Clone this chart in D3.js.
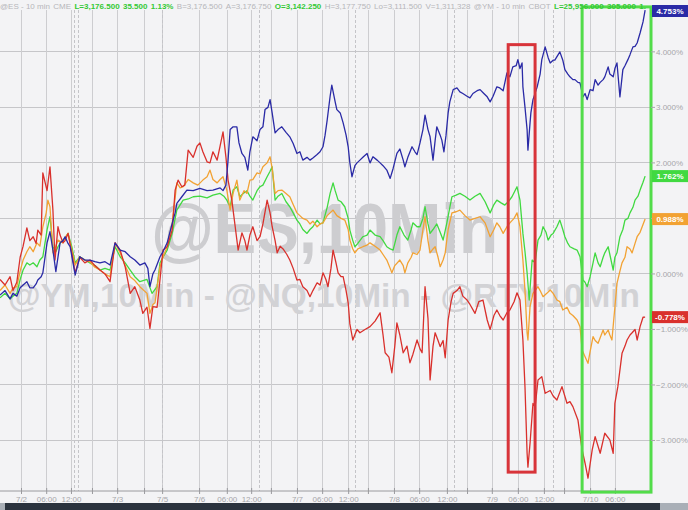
<!DOCTYPE html>
<html><head><meta charset="utf-8">
<script src="https://cdn.jsdelivr.net/npm/d3@7"></script>
<style>html,body{margin:0;padding:0;background:#f3f3f5;}svg{display:block;font-family:"Liberation Sans",Arial,sans-serif;}</style>
</head><body><svg id="c" width="688" height="510"></svg>
<script>
// time unit: trading hours from the first bar; value unit: % change
const nq = [[0,-0.38],[1.2,-0.3],[2.4,-0.45],[3.1,-0.35],[4.0,-0.4],[4.8,-0.25],[5.5,-0.2],[6.4,-0.14],[7.1,-0.25],[7.9,-0.25],[8.6,-0.18],[9.0,-0.11],[9.8,-0.05],[10.2,0.02],[11.2,0.56],[11.9,0.76],[12.6,0.43],[13.3,0.04],[14.3,0.56],[15.0,0.6],[15.5,0.67],[16.2,0.55],[16.7,0.49],[17.9,-0.02],[19.0,0.31],[20.2,0.25],[21.4,0.25],[22.6,0.22],[23.8,0.2],[25.0,0.22],[26.2,0.16],[27.4,0.56],[28.6,0.43],[29.8,0.4],[31.0,0.31],[32.1,0.25],[33.3,0.16],[34.5,0.2],[35.2,0.1],[35.7,-0.23],[36.4,0.0],[36.9,0.07],[38.1,0.31],[38.8,0.4],[39.8,0.56],[41.0,0.91],[41.7,1.1],[42.1,1.27],[43.3,1.39],[44.5,1.51],[46.0,1.5],[47.6,1.54],[49.3,1.5],[50.7,1.51],[52.4,1.55],[53.1,1.5],[53.8,1.6],[54.3,2.05],[54.8,2.6],[55.5,2.65],[56.4,2.65],[56.9,2.36],[57.6,2.17],[58.3,2.1],[59.0,1.87],[59.5,2.2],[60.2,2.47],[61.2,2.4],[61.9,2.6],[62.6,2.65],[63.1,2.96],[63.8,3.0],[64.3,3.14],[64.8,2.9],[65.5,2.54],[66.2,2.6],[67.1,2.65],[68.1,2.55],[69.0,2.47],[69.8,2.35],[70.7,2.17],[71.4,2.2],[72.1,2.05],[73.1,2.1],[73.8,2.05],[74.5,2.09],[75.5,2.15],[76.2,2.2],[76.9,2.29],[77.4,2.5],[77.9,2.77],[78.6,3.2],[79.0,3.4],[79.8,3.1],[80.2,2.96],[81.0,2.9],[81.7,2.72],[82.4,2.5],[82.9,2.29],[83.3,2.0],[83.8,1.75],[84.5,1.95],[85.0,2.0],[85.7,2.05],[86.4,2.1],[87.4,2.17],[88.1,2.0],[88.8,2.11],[89.8,2.05],[90.5,2.0],[91.2,1.95],[92.1,1.87],[92.9,1.72],[93.6,1.9],[94.5,2.17],[95.2,2.25],[96.0,2.05],[96.4,1.93],[97.1,2.1],[98.1,2.29],[98.8,2.2],[99.3,2.15],[100.0,2.36],[100.7,2.6],[101.2,2.86],[101.9,2.6],[102.4,2.47],[103.1,2.05],[103.6,2.4],[104.0,2.65],[104.8,2.5],[105.2,2.41],[105.7,2.2],[106.2,2.5],[106.7,2.9],[107.1,3.1],[107.9,3.32],[108.8,3.35],[109.5,3.28],[110.2,3.25],[111.2,3.2],[111.9,3.17],[112.6,3.25],[113.6,3.3],[114.3,3.32],[115.2,3.25],[116.0,3.19],[116.7,3.1],[117.4,3.2],[118.3,3.37],[119.0,3.35],[119.8,3.3],[120.7,3.62],[121.4,3.55],[122.1,3.73],[122.9,3.75],[123.3,3.86],[123.8,3.7],[124.3,3.8],[124.5,3.37],[125.0,3.0],[125.5,2.6],[125.7,2.23],[126.2,2.72],[126.4,2.9],[126.9,3.14],[127.9,3.37],[128.6,3.6],[129.0,3.86],[129.8,4.09],[130.5,3.9],[131.0,3.8],[131.7,3.85],[132.1,3.85],[132.9,3.95],[133.3,4.0],[134.0,3.85],[134.5,3.68],[135.2,3.6],[135.7,3.55],[136.4,3.5],[136.9,3.5],[137.6,3.45],[138.1,3.44],[138.8,3.19],[139.3,3.25],[139.8,3.14],[140.5,3.32],[141.2,3.3],[141.7,3.5],[142.4,3.4],[142.9,3.45],[143.6,3.5],[144.0,3.55],[144.8,3.73],[145.2,3.6],[146.0,3.55],[146.4,3.7],[146.9,3.8],[147.6,3.19],[148.3,3.68],[148.8,3.75],[149.5,3.86],[150.0,3.95],[150.7,4.09],[151.2,4.1],[151.7,4.16],[152.4,4.34],[153.1,4.54],[153.6,4.753]];
const es = [[0,-0.43],[1.2,-0.35],[2.4,-0.45],[3.1,-0.4],[4.0,-0.35],[4.8,-0.1],[5.5,0.07],[6.4,0.2],[7.1,0.16],[7.9,0.2],[8.8,0.13],[9.5,0.25],[10.2,0.31],[11.2,0.79],[11.9,1.03],[12.6,0.49],[13.3,0.4],[13.8,0.49],[14.3,0.55],[15.0,0.61],[15.5,0.65],[16.2,0.73],[17.1,0.49],[17.9,0.2],[19.0,0.31],[20.2,0.25],[21.4,0.2],[22.6,0.15],[23.8,0.07],[25.0,0.1],[26.2,0.07],[27.4,0.49],[28.6,0.31],[29.8,0.2],[31.0,0.07],[32.1,-0.05],[33.3,-0.14],[35.0,-0.1],[36.2,-0.35],[37.4,-0.23],[38.1,0.2],[38.8,0.3],[39.8,0.43],[41.0,0.73],[42.1,1.15],[43.6,1.33],[44.8,1.35],[46.0,1.39],[47.6,1.4],[49.3,1.37],[50.7,1.42],[52.4,1.45],[53.3,1.4],[54.0,1.33],[54.8,1.21],[55.5,1.51],[56.4,1.57],[57.1,1.39],[57.9,1.45],[58.8,1.5],[59.5,1.4],[60.2,1.33],[61.2,1.5],[61.9,1.57],[62.6,1.6],[63.6,1.75],[64.3,1.85],[64.8,1.93],[65.5,1.33],[66.2,1.4],[67.1,1.45],[68.1,1.3],[69.0,1.21],[69.8,1.1],[70.7,0.97],[71.4,0.9],[72.1,0.8],[73.1,0.73],[73.8,0.8],[74.5,0.85],[75.5,0.97],[76.2,0.9],[76.9,0.92],[77.9,1.2],[78.6,1.45],[79.3,1.64],[79.8,1.5],[80.5,1.33],[81.2,1.3],[82.1,1.21],[82.9,1.0],[83.3,0.79],[84.0,0.6],[84.5,0.49],[85.2,0.55],[86.4,0.67],[87.4,0.7],[88.1,0.79],[89.3,0.7],[90.5,0.67],[91.2,0.6],[92.1,0.49],[92.9,0.45],[93.6,0.43],[94.5,0.7],[95.2,0.85],[96.2,0.7],[97.1,0.61],[97.9,0.8],[98.3,0.92],[99.3,0.85],[100.0,0.85],[100.7,1.0],[101.2,1.21],[101.9,0.9],[102.4,0.73],[103.1,0.8],[104.0,0.9],[104.8,0.75],[105.5,0.61],[106.4,0.92],[107.1,1.2],[107.6,1.39],[108.6,1.42],[109.5,1.45],[110.7,1.4],[111.9,1.33],[113.1,1.4],[114.3,1.45],[115.5,1.3],[116.7,1.1],[117.6,1.25],[118.3,1.33],[119.3,1.28],[120.2,1.24],[121.0,1.3],[121.9,1.39],[123.1,1.57],[123.8,1.33],[124.5,0.73],[125.0,0.4],[125.5,0.02],[126.0,-0.47],[126.7,0.25],[127.4,0.2],[128.1,0.61],[128.8,0.7],[129.3,0.85],[130.0,0.75],[130.5,0.61],[131.2,0.7],[131.7,0.73],[132.6,0.85],[133.3,0.97],[134.0,0.8],[134.5,0.67],[135.2,0.55],[135.7,0.49],[136.7,0.45],[137.4,0.43],[138.1,0.31],[138.8,-0.11],[139.3,-0.15],[139.8,-0.23],[140.5,-0.05],[141.2,0.2],[141.7,0.38],[142.4,0.2],[142.9,0.13],[143.6,0.3],[144.0,0.38],[144.8,0.49],[145.2,0.35],[146.0,0.07],[146.4,0.3],[146.9,0.38],[147.6,0.67],[148.3,0.8],[148.8,0.97],[149.5,1.0],[150.0,1.1],[150.7,1.2],[151.2,1.33],[151.9,1.4],[152.4,1.51],[153.1,1.65],[153.6,1.762]];
const ym = [[0,-0.3],[1.2,-0.2],[2.4,-0.35],[3.1,-0.25],[4.0,-0.23],[4.8,0.05],[5.5,0.25],[6.4,0.4],[7.1,0.49],[7.9,0.4],[8.8,0.56],[9.5,0.5],[10.2,0.85],[11.0,1.1],[11.4,1.33],[11.9,1.21],[12.6,0.38],[13.3,0.5],[13.8,0.61],[15.0,0.56],[15.5,0.65],[16.2,0.73],[17.1,0.43],[17.9,0.16],[19.0,0.31],[20.2,0.25],[21.4,0.22],[22.6,0.12],[23.8,0.07],[25.0,0.0],[26.2,-0.05],[27.4,0.56],[28.6,0.38],[29.8,0.15],[31.0,-0.05],[32.1,-0.12],[33.3,-0.23],[35.0,-0.35],[35.7,-0.71],[36.4,-0.55],[36.9,-0.52],[38.1,0.13],[38.8,0.3],[39.8,0.49],[41.0,0.91],[42.1,1.64],[42.9,1.55],[43.6,1.57],[44.8,1.7],[46.0,1.64],[47.1,1.6],[48.3,1.69],[49.3,1.75],[50.0,1.87],[50.7,1.7],[51.7,1.64],[52.4,1.7],[53.1,1.75],[54.0,1.51],[54.8,1.15],[55.5,1.45],[56.4,1.69],[57.1,1.33],[58.1,1.5],[58.8,1.45],[59.5,1.69],[60.2,1.7],[61.2,1.82],[61.9,1.8],[62.6,1.93],[63.6,2.0],[64.3,2.11],[64.8,1.9],[65.5,1.45],[66.2,1.5],[67.1,1.51],[68.1,1.45],[69.0,1.39],[69.8,1.25],[70.7,1.1],[71.4,1.05],[72.1,1.0],[73.1,0.97],[73.8,0.9],[74.5,0.95],[75.5,0.85],[76.2,0.9],[76.9,0.92],[77.9,1.05],[78.6,1.1],[79.3,1.15],[80.2,1.05],[81.2,1.0],[82.1,0.97],[82.9,0.8],[83.3,0.61],[84.0,0.45],[84.5,0.38],[85.2,0.45],[86.4,0.49],[87.4,0.52],[88.1,0.56],[89.3,0.5],[90.5,0.43],[91.2,0.35],[92.1,0.25],[92.9,0.1],[93.3,0.02],[94.0,0.15],[95.2,0.25],[96.0,0.15],[96.4,0.02],[97.1,0.2],[97.9,0.3],[98.3,0.38],[99.3,0.35],[100.0,0.43],[100.7,0.8],[101.2,1.03],[101.9,0.6],[102.4,0.38],[103.1,0.45],[103.6,0.49],[104.3,0.3],[104.8,0.13],[105.5,0.25],[106.0,0.38],[106.7,0.8],[107.6,1.1],[108.6,1.12],[109.5,1.15],[110.7,1.05],[111.9,0.97],[113.1,1.0],[114.3,1.03],[115.5,0.92],[116.7,0.67],[117.6,0.8],[118.3,0.92],[119.0,0.85],[119.8,0.73],[120.7,0.85],[121.4,0.92],[122.4,1.0],[123.1,1.1],[123.8,0.85],[124.5,0.25],[125.0,-0.3],[125.5,-1.06],[125.7,-1.19],[126.2,-0.59],[126.9,-0.35],[127.4,-0.3],[128.1,-0.23],[128.6,-0.3],[129.3,-0.41],[130.2,-0.35],[131.0,-0.29],[131.7,-0.35],[132.6,-0.47],[133.3,-0.5],[134.0,-0.65],[135.0,-0.6],[135.7,-0.71],[136.4,-0.75],[137.4,-0.83],[138.1,-0.95],[138.6,-1.37],[139.3,-1.49],[140.0,-1.61],[140.5,-1.4],[141.2,-1.13],[141.7,-1.2],[142.4,-1.25],[142.9,-1.15],[143.6,-1.01],[144.0,-1.1],[144.8,-1.01],[145.2,-1.1],[145.7,-1.19],[146.4,-0.6],[146.9,-0.17],[147.6,0.05],[148.1,0.2],[148.8,0.3],[149.3,0.49],[150.0,0.45],[150.5,0.38],[151.2,0.55],[151.7,0.67],[152.4,0.75],[152.9,0.85],[153.6,0.988]];
const rty = [[0,-0.1],[1.2,-0.2],[2.4,-0.05],[3.1,-0.3],[4.0,-0.15],[4.8,0.3],[5.5,0.5],[6.4,0.83],[7.1,0.6],[7.9,0.67],[8.6,0.55],[9.0,0.79],[9.8,0.7],[10.2,1.82],[11.2,1.5],[11.9,1.93],[12.6,1.15],[13.1,0.25],[13.8,0.85],[14.3,0.7],[15.0,0.56],[15.5,0.6],[16.2,0.73],[17.1,0.37],[17.9,0.02],[19.0,0.3],[20.2,0.2],[21.4,0.25],[22.6,0.15],[23.8,0.07],[25.0,0.0],[26.2,-0.14],[27.4,0.56],[28.6,0.43],[29.8,0.13],[31.0,-0.35],[32.1,-0.23],[33.3,-0.47],[34.0,-0.71],[35.0,-0.6],[35.7,-0.98],[36.4,-0.59],[37.4,-0.6],[38.1,-0.1],[38.8,0.43],[39.8,0.49],[41.0,0.79],[41.7,1.51],[42.4,1.69],[43.3,1.57],[44.0,1.6],[44.8,2.23],[46.0,2.1],[46.9,2.3],[47.6,2.36],[48.3,2.2],[49.3,2.02],[50.0,2.0],[50.7,2.2],[51.7,2.05],[52.4,2.3],[53.1,2.56],[53.8,2.1],[54.3,1.69],[55.2,1.33],[56.0,0.85],[56.7,0.43],[57.6,0.74],[58.3,0.6],[58.8,0.43],[59.5,0.7],[60.2,0.85],[61.2,0.6],[61.9,0.67],[62.6,0.9],[63.6,1.33],[64.3,1.1],[64.8,0.85],[65.5,0.6],[66.0,0.38],[66.7,0.5],[67.4,0.45],[68.3,0.35],[69.0,0.25],[69.8,0.1],[70.7,-0.11],[71.4,-0.1],[72.1,-0.23],[73.1,-0.3],[73.8,-0.41],[74.5,-0.3],[75.5,-0.16],[76.2,-0.2],[76.9,0.02],[77.6,-0.1],[78.1,-0.23],[78.8,0.1],[79.3,0.43],[80.0,0.2],[80.5,0.02],[81.2,-0.05],[81.7,-0.05],[82.4,-0.3],[82.9,-0.52],[83.3,-0.9],[84.0,-1.19],[85.0,-1.0],[85.7,-1.06],[86.9,-1.0],[88.1,-0.95],[89.3,-0.85],[90.5,-0.7],[91.2,-1.1],[91.7,-1.42],[92.6,-1.5],[93.3,-1.78],[94.0,-1.3],[94.5,-0.88],[95.2,-1.1],[96.0,-1.42],[96.9,-1.3],[97.6,-1.6],[98.3,-1.45],[99.3,-1.19],[100.0,-1.35],[100.5,-1.42],[101.2,-0.23],[101.9,-0.8],[102.4,-1.91],[103.1,-1.3],[103.6,-1.06],[104.3,-1.2],[104.8,-1.31],[105.5,-1.2],[106.0,-1.51],[106.7,-0.83],[107.4,-0.5],[107.9,-0.35],[108.8,-0.3],[109.5,-0.23],[110.2,-0.4],[111.2,-0.47],[111.9,-0.55],[113.1,-0.71],[114.0,-0.5],[115.0,-0.47],[116.0,-0.83],[116.7,-1.0],[117.6,-0.75],[118.3,-0.65],[119.0,-0.75],[119.8,-0.83],[120.7,-0.7],[121.4,-0.65],[122.4,-0.5],[123.1,-0.34],[123.8,-0.47],[124.5,-1.19],[125.0,-2.04],[125.5,-3.23],[125.7,-3.48],[126.2,-3.05],[126.9,-2.33],[127.4,-2.4],[128.1,-1.91],[129.0,-1.85],[129.8,-2.15],[131.0,-2.1],[131.7,-2.2],[132.6,-2.27],[133.8,-2.03],[135.0,-2.33],[135.7,-2.3],[136.4,-2.39],[137.6,-2.63],[138.6,-3.17],[139.3,-3.41],[140.0,-3.68],[141.0,-3.17],[141.7,-2.93],[142.9,-3.23],[143.6,-3.0],[144.0,-2.87],[145.2,-2.99],[146.0,-3.23],[146.4,-2.33],[147.1,-2.03],[148.1,-1.43],[148.8,-1.3],[149.3,-1.19],[150.0,-1.1],[150.5,-1.06],[151.2,-1.0],[151.7,-1.19],[152.4,-0.95],[153.1,-0.78],[153.6,-0.778]];

const seriesNames  = ["ES","YM","RTY","NQ"];
const seriesData   = [es, ym, rty, nq];
const seriesColors = ["#41d941","#f2a233","#d9302c","#2a2aa6"];
const lastLabels   = ["1.762%","0.988%","-0.778%","4.753%"];

const yTicks = [-3,-2,-1,0,1,2,3,4];
const xTicks = [5.0,11.0,16.9,21.9,27.9,34.3,38.6,47.4,54.0,59.8,64.5,70.7,76.7,82.9,87.6,93.8,99.8,106.4,111.2,117.1,123.3,129.5,134.3,140.5,146.4];
const xTickLabels = ["7/2","06:00","12:00","","7/3","","7/5","7/6","06:00","12:00","","7/7","06:00","12:00","","7/8","06:00","12:00","","7/9","06:00","12:00","","7/10","06:00"];
const sessionMarks = [17.6,18.6,38.6,61.7,84.5,108.1,131.7];

const highlights = [
  {t0:121.0, t1:127.4, v0:-3.57, v1:4.13, color:"#d8343a"},
  {t0:138.6, t1:155.0, v0:-3.93, v1:4.81, color:"#52dc4a"}
];

const headerText  = ["@ES - 10 min","CME","L=3,176.500","35.500","1.13%","B=3,176.500","A=3,176.750","O=3,142.250","H=3,177.750","Lo=3,111.500","V=1,311,328","@YM - 10 min","CBOT","L=25,956.000","305.000","1."];
const headerGreen = [false,false,true,true,true,false,false,true,false,false,false,false,false,true,true,true];

const watermark1 = "@ES,10Min";
const watermark2 = "@YM,10Min - @NQ,10Min - @RTY,10Min";

// ---------- drawing ----------
const svg = d3.select("#c");
const W = 688, H = 510;
const plot = {left:0, right:651, top:8, bottom:491};
const x = d3.scaleLinear().domain([0,155]).range([plot.left, plot.right]);
const y = d3.scaleLinear().domain([-3.91,4.79]).range([plot.bottom, plot.top]);

svg.append("rect").attr("width",W).attr("height",H).attr("fill","#f3f3f5");

// grid
const grid = svg.append("g");
grid.selectAll(".hg").data(yTicks).join("line")
  .attr("x1",plot.left).attr("x2",plot.right)
  .attr("y1",d=>y(d)).attr("y2",d=>y(d))
  .attr("stroke","#c6c6c9").attr("stroke-width",1).attr("shape-rendering","crispEdges");
grid.selectAll(".vg").data(xTicks).join("line")
  .attr("x1",d=>Math.round(x(d))+0.5).attr("x2",d=>Math.round(x(d))+0.5)
  .attr("y1",plot.top+2).attr("y2",plot.bottom)
  .attr("stroke","#cdcdd0").attr("stroke-width",1);
grid.selectAll(".sg").data(sessionMarks).join("line")
  .attr("x1",d=>Math.round(x(d))+0.5).attr("x2",d=>Math.round(x(d))+0.5)
  .attr("y1",plot.top+2).attr("y2",plot.bottom)
  .attr("stroke","#c4c4c8").attr("stroke-width",1).attr("stroke-dasharray","3,2");

// watermarks
svg.append("text").attr("x",x(36)).attr("y",y(0.38))
  .attr("font-size",70).attr("font-weight","bold").attr("fill","#cdcdd0")
  .attr("textLength",347).attr("lengthAdjust","spacingAndGlyphs")
  .text(watermark1);
svg.append("text").attr("x",x(1.9)).attr("y",y(-0.6))
  .attr("font-size",34).attr("font-weight","bold").attr("fill","#d2d2d5")
  .attr("textLength",632).attr("lengthAdjust","spacingAndGlyphs")
  .text(watermark2);

// axis line + x ticks
const xAxis = d3.axisBottom(x).tickValues(xTicks).tickSize(5).tickFormat((d,i)=>xTickLabels[i]);
const gx = svg.append("g").attr("transform",`translate(0,${plot.bottom})`).call(xAxis);
gx.select(".domain").attr("stroke","#9a9a9e").attr("d",`M0,0H${plot.right}`);
gx.selectAll(".tick line").attr("stroke","#9a9a9e").attr("y1",-3).attr("y2",3);
gx.selectAll(".tick text").attr("fill","#a6a6aa").attr("font-size",8).attr("y",5).attr("font-family","'Liberation Sans',Arial,sans-serif");

// lines
const line = d3.line().x(d=>x(d[0])).y(d=>y(d[1]));
svg.append("g").selectAll("path").data(seriesData).join("path")
  .attr("d",line).attr("fill","none")
  .attr("stroke",(d,i)=>seriesColors[i]).attr("stroke-width",1.3).attr("stroke-linejoin","round");

// highlight boxes
svg.append("g").selectAll("rect").data(highlights).join("rect")
  .attr("x",d=>x(d.t0)).attr("y",d=>y(d.v1))
  .attr("width",d=>x(d.t1)-x(d.t0)).attr("height",d=>y(d.v0)-y(d.v1))
  .attr("fill","none").attr("stroke",d=>d.color).attr("stroke-width",3);

// header
const hdr = svg.append("g").attr("font-size",8);
const hTexts = hdr.selectAll("text").data(headerText).join("text")
  .attr("y",9).attr("fill",(d,i)=>headerGreen[i]?"#34c934":"#b6b6ba")
  .attr("font-weight",(d,i)=>headerGreen[i]?"bold":"normal").text(d=>d);
const widths = hTexts.nodes().map(n=>n.getComputedTextLength());
const totalW = d3.sum(widths);
const gap = (646 - totalW)/(headerText.length-1);
let cx = 0;
hTexts.attr("x",(d,i)=>{const p=cx; cx+=widths[i]+gap; return p;});

// right axis
const gy = svg.append("g");
gy.selectAll("line").data(yTicks).join("line")
  .attr("x1",plot.right).attr("x2",plot.right+4).attr("y1",d=>y(d)).attr("y2",d=>y(d))
  .attr("stroke","#a6a6aa");
gy.selectAll("text").data(yTicks).join("text")
  .attr("x",plot.right+5).attr("y",d=>y(d)+3).attr("font-size",8).attr("fill","#a6a6aa")
  .text(d=>d3.format(".3f")(d)+"%");

// last value badges
const badges = svg.append("g");
seriesData.forEach((s,i)=>{
  const v = s[s.length-1][1];
  const cy = Math.max(y(v), plot.top+3);
  badges.append("rect").attr("x",652).attr("y",cy-6).attr("width",36).attr("height",12).attr("fill",seriesColors[i]);
  badges.append("text").attr("x",670).attr("y",cy+3).attr("text-anchor","middle")
    .attr("font-size",8).attr("font-weight","bold").attr("fill","#fff").text(lastLabels[i]);
});

// bottom scrollbar
svg.append("rect").attr("x",0).attr("y",503).attr("width",W).attr("height",7).attr("fill","#a9afb7");
svg.append("rect").attr("x",5).attr("y",503).attr("width",655).attr("height",7).attr("fill","#2b333e");
</script></body></html>
